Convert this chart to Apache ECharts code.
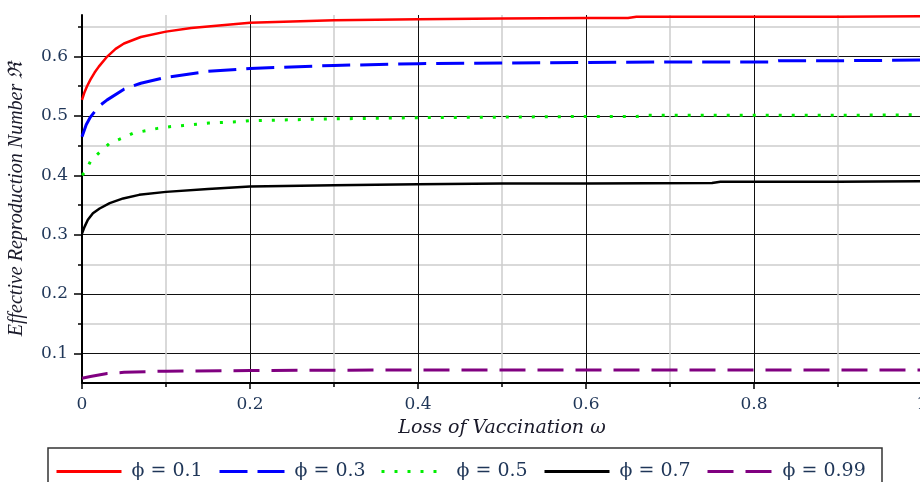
<!DOCTYPE html>
<html>
<head>
<meta charset="utf-8">
<title>Effective Reproduction Number vs Loss of Vaccination</title>
<script src="https://cdn.jsdelivr.net/npm/echarts@6/dist/echarts.min.js"></script>
<style>
  html, body { margin: 0; padding: 0; background: #fff; }
  #main { width: 920px; height: 482px; }
</style>
</head>
<body>
<div id="main"></div>
<script>
// values, one pair of arrays per phi
var omega01 = [0, 0.003, 0.006, 0.01, 0.015, 0.02, 0.03, 0.04, 0.05, 0.07, 0.1, 0.13, 0.16, 0.2, 0.25, 0.3, 0.4, 0.5, 0.6, 0.65, 0.66, 0.8, 0.9, 1];
var r01     = [0.527, 0.54, 0.55, 0.561, 0.573, 0.583, 0.6, 0.613, 0.622, 0.633, 0.642, 0.648, 0.652, 0.657, 0.659, 0.661, 0.663, 0.664, 0.665, 0.665, 0.667, 0.667, 0.667, 0.668];

var omega03 = [0, 0.005, 0.01, 0.02, 0.03, 0.05, 0.07, 0.1, 0.15, 0.2, 0.3, 0.4, 0.5, 0.6, 0.7, 0.82, 0.83, 0.9, 1];
var r03     = [0.465, 0.485, 0.498, 0.516, 0.527, 0.545, 0.555, 0.565, 0.575, 0.58, 0.585, 0.588, 0.589, 0.59, 0.591, 0.591, 0.593, 0.593, 0.594];

var omega05 = [0, 0.004, 0.011, 0.022, 0.033, 0.047, 0.061, 0.076, 0.09, 0.106, 0.121, 0.136, 0.151, 0.168, 0.184, 0.2, 0.3, 0.4, 0.5, 0.6, 0.66, 0.67, 0.8, 0.9, 1];
var r05     = [0.4, 0.406, 0.426, 0.44, 0.454, 0.462, 0.471, 0.475, 0.479, 0.482, 0.484, 0.486, 0.488, 0.489, 0.49, 0.492, 0.495, 0.497, 0.498, 0.499, 0.499, 0.501, 0.501, 0.501, 0.502];

var omega07 = [0, 0.003, 0.007, 0.013, 0.021, 0.033, 0.049, 0.068, 0.1, 0.15, 0.2, 0.3, 0.4, 0.5, 0.6, 0.75, 0.76, 0.9, 1];
var r07     = [0.302, 0.313, 0.325, 0.336, 0.344, 0.353, 0.361, 0.367, 0.372, 0.377, 0.381, 0.383, 0.385, 0.386, 0.386, 0.387, 0.389, 0.389, 0.39];

var omega099 = [0, 0.01, 0.03, 0.05, 0.1, 0.2, 0.4, 0.6, 0.8, 1];
var r099     = [0.058, 0.061, 0.066, 0.068, 0.07, 0.071, 0.072, 0.072, 0.072, 0.072];

var names = ['ϕ = 0.1', 'ϕ = 0.3', 'ϕ = 0.5', 'ϕ = 0.7', 'ϕ = 0.99'];

var xMajor = [0, 0.2, 0.4, 0.6, 0.8, 1];
var xMinor = [0.1, 0.3, 0.5, 0.7, 0.9];
var yMajor = [0.1, 0.2, 0.3, 0.4, 0.5, 0.6];
var yMinor = [0.15, 0.25, 0.35, 0.45, 0.55, 0.65];

var wide = '"DejaVu Serif", "Liberation Serif", serif';
var serif = '"Liberation Serif", "Times New Roman", serif';
var navy = '#1f3658';

function pairs(xs, ys) {
  var out = [];
  for (var i = 0; i < xs.length; i++) {
    out.push([xs[i], ys[i]]);
  }
  return out;
}

function line(name, xs, ys, color, width, dash) {
  return {
    name: name,
    type: 'line',
    symbol: 'none',
    data: pairs(xs, ys),
    lineStyle: { color: color, width: width, type: dash },
    itemStyle: { color: color },
    z: 5
  };
}

var series = [
  line(names[0], omega01, r01, '#ff0000', 2.5, 'solid'),
  line(names[1], omega03, r03, '#0000ff', 3, [28, 10]),
  line(names[2], omega05, r05, '#00ee00', 3, [3, 10]),
  line(names[3], omega07, r07, '#000000', 2.5, 'solid'),
  line(names[4], omega099, r099, '#800080', 3, [26, 12])
];

// one legend per entry so each sits where it is in the figure
var legendLeft = [55, 218, 380, 543, 706];
var legends = [];
for (var i = 0; i < names.length; i++) {
  legends.push({
    data: [names[i]],
    left: legendLeft[i],
    top: 462,
    padding: 0,
    itemWidth: 65,
    itemHeight: 14,
    selectedMode: false,
    itemStyle: { color: 'rgba(0,0,0,0)', borderWidth: 0 },
    lineStyle: { width: 3 },
    textStyle: { fontFamily: wide, fontSize: 19, color: navy, padding: [0, 0, 0, 5] }
  });
}

var chart = echarts.init(document.getElementById('main'));

var option = {
  backgroundColor: '#ffffff',
  animation: false,
  grid: { left: 82, top: 15, width: 840, height: 368, outerBoundsMode: 'none' },
  legend: legends,
  graphic: [{
    type: 'rect',
    shape: { x: 48, y: 448, width: 834, height: 60 },
    style: { fill: null, stroke: '#333', lineWidth: 1.5 }
  }],
  xAxis: [{
    type: 'value',
    position: 'bottom',
    min: 0,
    max: 1,
    interval: 0.1,
    name: 'Loss of Vaccination ω',
    nameLocation: 'middle',
    nameGap: 36,
    nameTextStyle: { fontFamily: wide, fontStyle: 'italic', fontSize: 19, color: '#1a1a2a' },
    axisLine: { show: true, onZero: false, lineStyle: { color: '#000', width: 2 } },
    axisTick: { customValues: xMajor, length: 6, lineStyle: { color: '#000', width: 1.5 } },
    axisLabel: {
      customValues: xMajor,
      margin: 13,
      fontFamily: wide,
      fontSize: 17,
      color: navy,
      formatter: function (v) { return String(v); }
    },
    splitLine: { show: true, lineStyle: { color: '#111', width: 1 } }
  }, {
    type: 'value',
    position: 'bottom',
    min: 0,
    max: 1,
    interval: 0.1,
    axisLine: { show: false },
    axisTick: { customValues: xMinor, length: 4, lineStyle: { color: '#000', width: 1.5 } },
    axisLabel: { show: false },
    splitLine: { show: true, lineStyle: { color: '#cccccc', width: 1.5 } }
  }],
  yAxis: [{
    type: 'value',
    position: 'left',
    min: 0.05,
    max: 0.67,
    interval: 0.05,
    name: 'Effective Reproduction Number ℜ',
    nameLocation: 'middle',
    nameGap: 55,
    nameTextStyle: { fontFamily: serif, fontStyle: 'italic', fontSize: 20, color: '#1a1a2a' },
    axisLine: { show: true, onZero: false, lineStyle: { color: '#000', width: 2 } },
    axisTick: { customValues: yMajor, length: 8, lineStyle: { color: '#000', width: 1.5 } },
    axisLabel: {
      customValues: yMajor,
      margin: 14,
      fontFamily: wide,
      fontSize: 17,
      color: navy,
      formatter: function (v) { return v.toFixed(1); }
    },
    splitLine: { show: true, lineStyle: { color: '#111', width: 1 } }
  }, {
    type: 'value',
    position: 'left',
    min: 0.05,
    max: 0.67,
    interval: 0.05,
    axisLine: { show: false },
    axisTick: { customValues: yMinor, length: 4, lineStyle: { color: '#000', width: 1.5 } },
    axisLabel: { show: false },
    splitLine: { show: true, lineStyle: { color: '#cccccc', width: 1.5 } }
  }],
  series: series
};

chart.setOption(option);
</script>
</body>
</html>
